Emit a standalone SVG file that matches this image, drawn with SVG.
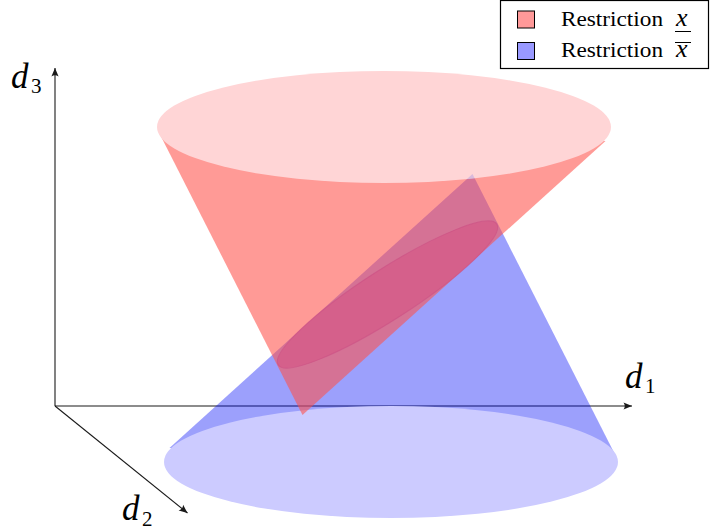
<svg xmlns="http://www.w3.org/2000/svg" width="710" height="530" viewBox="0 0 710 530">
<defs>
<style>
.ax{stroke:#1a1a1a;stroke-width:1.1;fill:none}
.lbl{font-family:"Liberation Serif",serif;font-style:italic;font-size:35px;fill:#000}
.sub{font-family:"Liberation Serif",serif;font-style:normal;font-size:21px;fill:#000}
.lg{font-family:"Liberation Serif",serif;font-size:20px;fill:#000}
.lgx{font-family:"Liberation Serif",serif;font-style:italic;font-size:26px;fill:#000}
.redc{fill:#ff514a;fill-opacity:0.58}
.bluec{fill:#000af8;fill-opacity:0.39}
</style>
<marker id="arr" markerUnits="userSpaceOnUse" markerWidth="12" markerHeight="10" viewBox="-10 -5 12 10" refX="0" refY="0" orient="auto">
<path d="M0,0 L-8.5,-3.6 Q-6,0 -8.5,3.6 Z" fill="#1a1a1a"/>
</marker>
<clipPath id="topClip"><ellipse cx="384" cy="127" rx="227" ry="56"/></clipPath>
</defs>
<rect width="710" height="530" fill="#fff"/>
<g id="connectors">
<path class="ax" d="M55 406 L55 68" marker-end="url(#arr)"/>
<path class="ax" d="M55 406 L632 406" marker-end="url(#arr)"/>
<path class="ax" d="M55 406 L187.5 513" marker-end="url(#arr)"/>
</g>
<g id="blue-cone">
<polygon class="bluec" points="472.5,174 169.5,448 614.5,453.5"/>
<ellipse cx="391" cy="462" rx="227" ry="56" fill="#cccbff"/>
</g>
<g id="red-cone">
<polygon class="redc" points="160.5,135.5 605.5,141 302.5,415"/>
<ellipse cx="384" cy="127" rx="227" ry="56" fill="#ffd5d6"/>
</g>
<g id="blue-tip">
<polygon points="472.5,174 169.5,448 614.5,453.5" fill="#6a6cf0" fill-opacity="0.25" clip-path="url(#topClip)"/>
</g>
<g id="intersection">
<ellipse cx="387.5" cy="294.5" rx="130" ry="25" transform="rotate(-32.8 387.5 294.5)" fill="#d5608b" stroke="#cc4f84" stroke-opacity="0.6" stroke-width="1"/>
</g>
<g id="axis-labels">
<text class="lbl" x="11" y="88">d</text><text class="sub" x="31" y="93">3</text>
<text class="lbl" x="625" y="388">d</text><text class="sub" x="645" y="393">1</text>
<text class="lbl" x="122" y="520">d</text><text class="sub" x="142" y="526">2</text>
</g>
<g id="legend">
<rect x="500.5" y="0.5" width="208" height="68" fill="#fff" stroke="#000" stroke-width="1.2"/>
<rect x="517.5" y="11" width="17" height="17" fill="#ff9999" stroke="#000" stroke-width="1"/>
<text class="lg" x="561" y="26" textLength="102" lengthAdjust="spacingAndGlyphs">Restriction</text>
<text class="lgx" x="676" y="26">x</text>
<line x1="675" y1="31.5" x2="691" y2="31.5" stroke="#000" stroke-width="1"/>
<rect x="517.5" y="42.5" width="17" height="17" fill="#9999ff" stroke="#000" stroke-width="1"/>
<text class="lg" x="561" y="57.3" textLength="102" lengthAdjust="spacingAndGlyphs">Restriction</text>
<text class="lgx" x="676" y="57.3">x</text>
<line x1="675" y1="42.5" x2="691" y2="42.5" stroke="#000" stroke-width="1"/>
</g>
</svg>
